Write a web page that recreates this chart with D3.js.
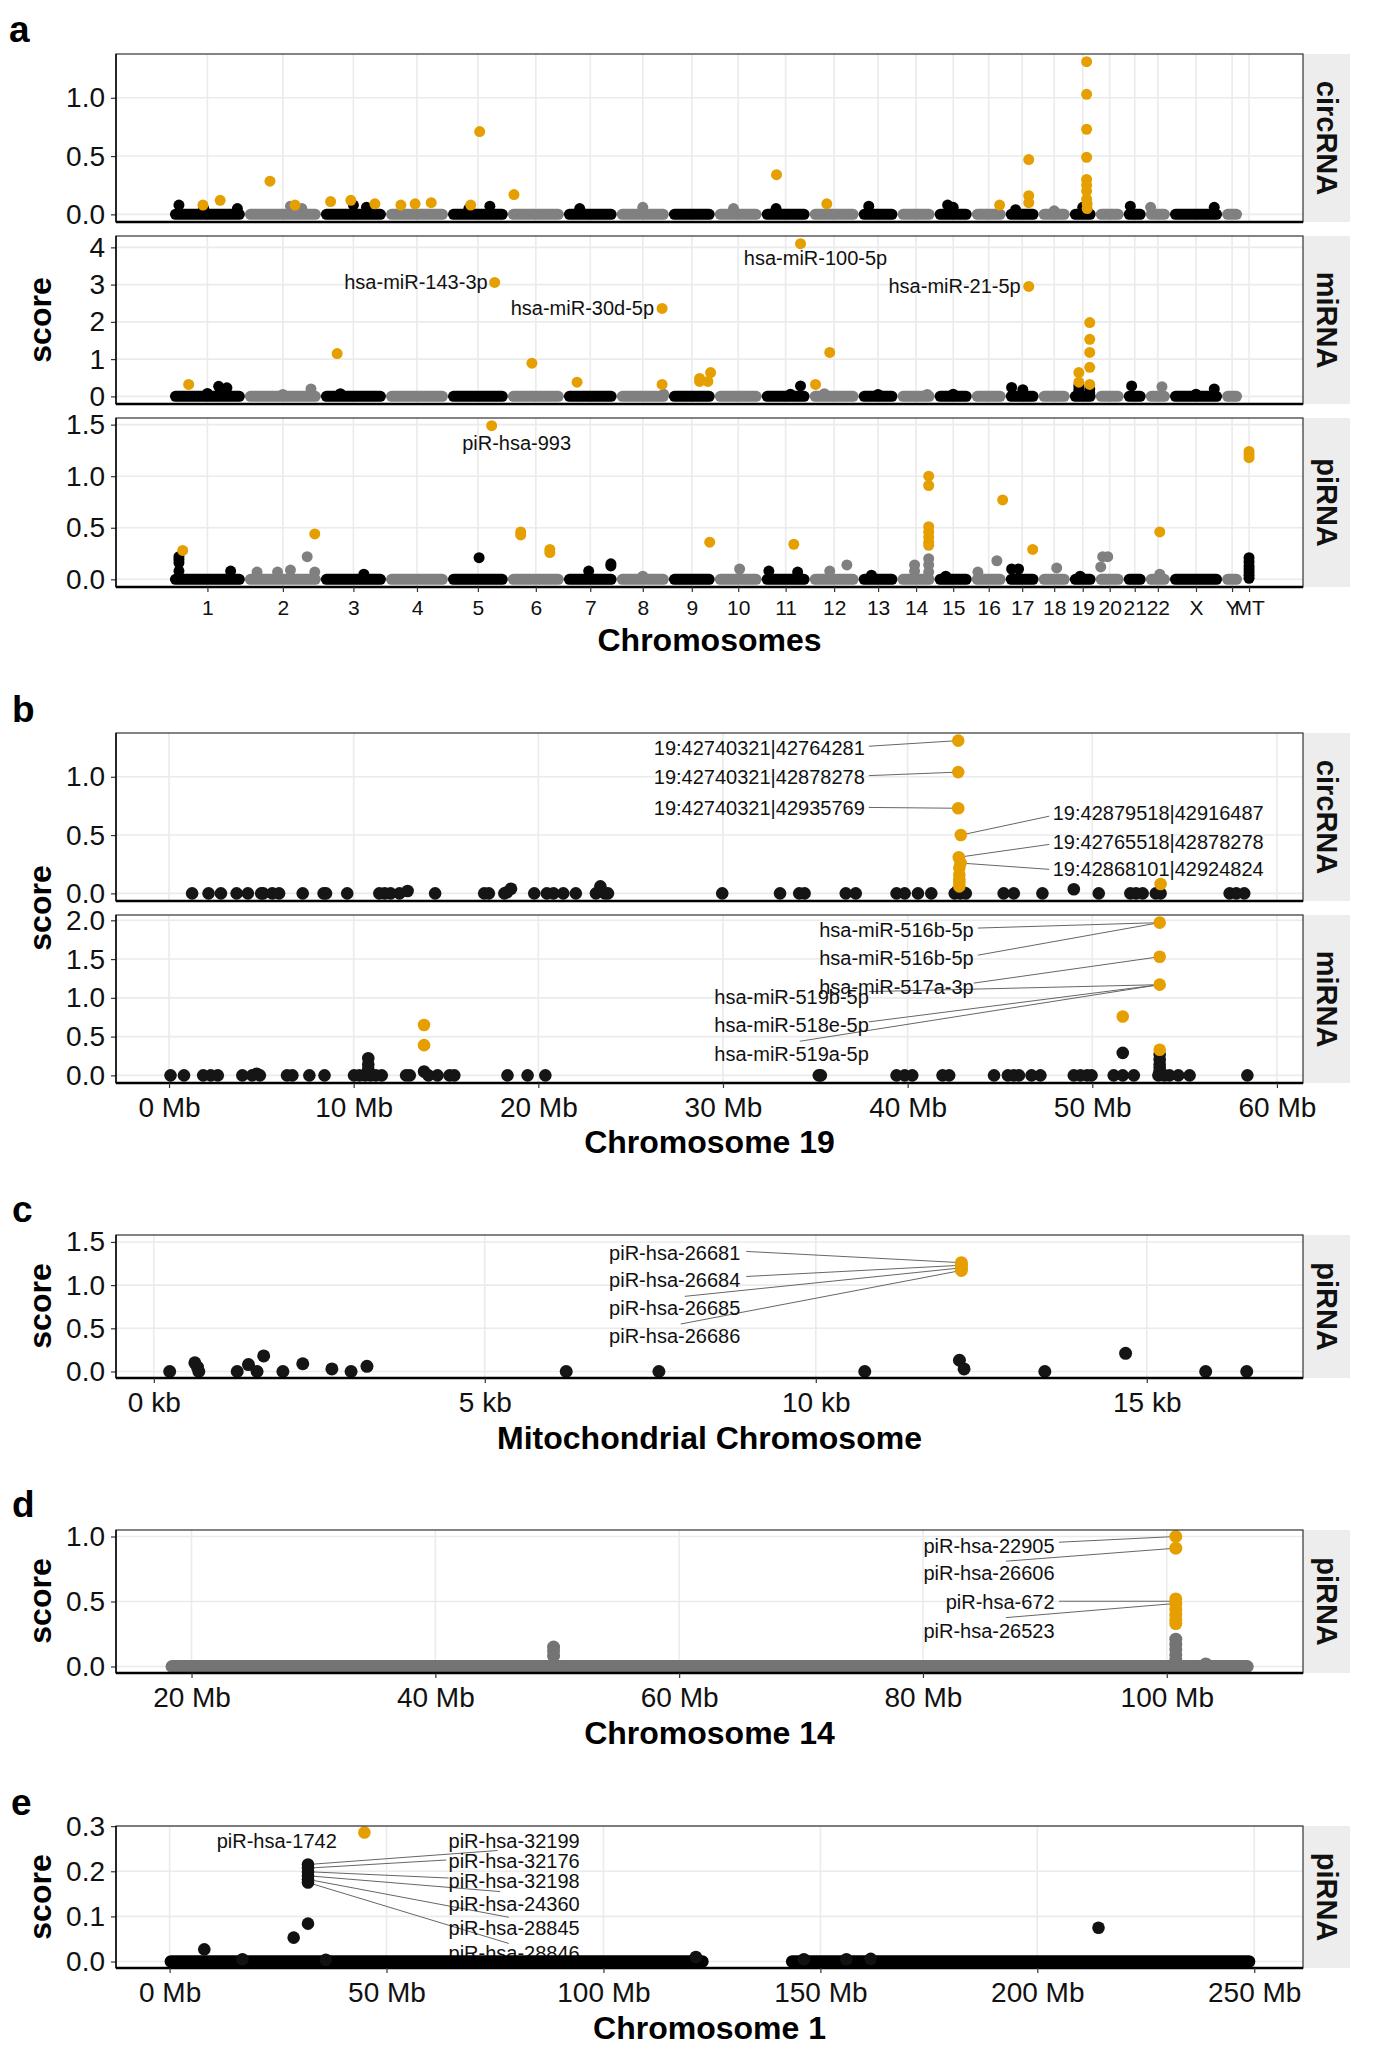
<!DOCTYPE html>
<html><head><meta charset="utf-8">
<script src="https://cdn.jsdelivr.net/npm/d3@7"></script>
<style>
body{margin:0;background:#fff}
svg text{font-family:"Liberation Sans",Arial,Helvetica,sans-serif}
</style>
</head><body>
<svg id="chart" width="1378" height="2067"></svg>
<script>
// ================= DATA =================
// Panel a: chromosomes and their plotted span (cumulative Manhattan axis units)
const chromosomes = ["1","2","3","4","5","6","7","8","9","10","11","12","13","14","15","16","17","18","19","20","21","22","X","Y","MT"];
const chromSpan   = [214,217,186,177,171,160,151,149,131,134,137,140,111,106,106,97,94,89,74,80,63,69,149,57,40];

// which chromosomes show the dense near-zero band in each facet of panel a
const circBandChroms = chromosomes.slice(0,24);
const miBandChroms   = chromosomes.slice(0,24);
const piBandChroms   = chromosomes.slice(0,24);

// [chromosome, fraction along chromosome, score]
const circSig = [["1",0.44,0.08],["1",0.67,0.12],["2",0.33,0.285],["2",0.66,0.08],["3",0.15,0.11],["3",0.46,0.12],["3",0.83,0.09],
  ["4",0.24,0.08],["4",0.47,0.09],["4",0.73,0.10],["5",0.38,0.08],["5",0.53,0.71],["6",0.11,0.17],["11",0.31,0.34],["12",0.35,0.09],
  ["16",0.82,0.08],["17",0.70,0.47],["17",0.70,0.16],["17",0.70,0.10],["19",0.65,1.31],["19",0.65,1.03],["19",0.65,0.73],["19",0.65,0.49],
  ["19",0.65,0.30],["19",0.65,0.25],["19",0.65,0.20],["19",0.65,0.13],["19",0.67,0.09],["19",0.67,0.05]];
const circBase = [["1",0.12,0.08],["1",0.45,0.05],["1",0.9,0.05],["2",0.6,0.07],["2",0.75,0.05],["3",0.5,0.08],["3",0.7,0.06],["5",0.35,0.05],
  ["5",0.7,0.07],["7",0.3,0.05],["8",0.5,0.06],["10",0.4,0.05],["11",0.3,0.05],["13",0.26,0.07],["15",0.35,0.08],["15",0.5,0.06],
  ["17",0.3,0.04],["18",0.5,0.03],["19",0.5,0.06],["21",0.3,0.07],["22",0.2,0.06],["X",0.85,0.06]];

const miSig = [["1",0.25,0.32],["3",0.25,1.15],["5",0.78,3.06],["6",0.43,0.89],["7",0.25,0.38],["8",0.87,2.36],["8",0.87,0.32],
  ["9",0.67,0.48],["9",0.67,0.40],["9",0.91,0.64],["9",0.85,0.40],["11",0.81,4.1],["12",0.12,0.32],["12",0.41,1.18],["17",0.70,2.95],
  ["19",0.35,0.64],["19",0.35,0.38],["19",0.77,1.98],["19",0.77,1.53],["19",0.77,1.18],["19",0.77,0.78],["19",0.77,0.32]];
const miBase = [["1",0.65,0.27],["1",0.76,0.23],["1",0.5,0.08],["2",0.87,0.2],["2",0.5,0.05],["3",0.3,0.07],["8",0.9,0.06],["11",0.81,0.28],
  ["11",0.6,0.06],["12",0.3,0.07],["13",0.5,0.05],["14",0.8,0.05],["15",0.5,0.06],["17",0.18,0.24],["17",0.52,0.18],["19",0.35,0.28],
  ["19",0.35,0.18],["19",0.35,0.1],["19",0.77,0.2],["19",0.77,0.1],["21",0.36,0.28],["22",0.67,0.26],["X",0.85,0.2],["X",0.5,0.06]];

const piSig = [["1",0.17,0.28],["2",0.92,0.44],["5",0.73,1.49],["6",0.23,0.46],["6",0.23,0.43],["6",0.75,0.29],["6",0.75,0.26],
  ["9",0.89,0.36],["11",0.67,0.34],["14",0.84,1.0],["14",0.84,0.91],["14",0.84,0.51],["14",0.84,0.46],["14",0.84,0.41],["14",0.84,0.36],
  ["14",0.84,0.33],["16",0.91,0.77],["17",0.82,0.29],["22",0.58,0.46],["MT",0.5,1.24],["MT",0.5,1.21],["MT",0.5,1.18]];
const piBase = [["1",0.12,0.22],["1",0.12,0.19],["1",0.12,0.16],["1",0.12,0.08],["1",0.81,0.08],["2",0.16,0.07],["2",0.43,0.07],["2",0.6,0.09],
  ["2",0.82,0.22],["2",0.92,0.07],["3",0.66,0.05],["5",0.52,0.21],["7",0.47,0.08],["7",0.89,0.15],["7",0.89,0.13],["8",0.5,0.03],
  ["10",0.53,0.1],["11",0.15,0.08],["11",0.75,0.07],["12",0.41,0.08],["12",0.76,0.14],["13",0.33,0.04],["14",0.46,0.14],["14",0.46,0.08],
  ["14",0.84,0.2],["14",0.84,0.14],["14",0.84,0.07],["15",0.3,0.03],["16",0.18,0.07],["16",0.74,0.18],["17",0.18,0.1],["17",0.39,0.1],
  ["18",0.58,0.11],["19",0.4,0.03],["20",0.18,0.12],["20",0.25,0.22],["20",0.43,0.22],["22",0.58,0.05],
  ["MT",0.5,0.21],["MT",0.5,0.17],["MT",0.5,0.13],["MT",0.5,0.1],["MT",0.5,0.07],["MT",0.5,0.04],["MT",0.5,0.01]];

const aLabelsMi = [{t:"hsa-miR-143-3p",chr:"5",f:0.78,s:3.06},{t:"hsa-miR-30d-5p",chr:"8",f:0.87,s:2.36},
  {t:"hsa-miR-100-5p",chr:"11",f:0.81,s:4.1},{t:"hsa-miR-21-5p",chr:"17",f:0.70,s:2.95}];
const aLabelsPi = [{t:"piR-hsa-993",chr:"5",f:0.73,s:1.49}];

// Panel b: chromosome 19 (Mb, score)
const bXTicks = [0,10,20,30,40,50,60];
const bXRange = [0.05,58.49];
const bCircBase = [[1.25,0],[2.14,0],[2.81,0],[3.66,0],[4.27,0],[4.99,0],[5.1,0],[5.59,0],[5.96,0],[7.24,0],[8.37,0],[8.5,0],[9.65,0],
  [11.39,0],[11.68,0],[12.0,0],[12.48,0],[12.92,0.02],[14.41,0],[17.07,0],[17.32,0],[18.16,0],[18.3,0.01],[18.52,0.04],[19.78,0],[20.46,0],
  [20.82,0],[21.35,0],[22.03,0],[23.12,0],[23.36,0.06],[23.6,0],[23.77,0],[29.96,0],[33.09,0],[34.13,0],[34.42,0],[36.65,0],[37.19,0],
  [39.4,0],[39.84,0],[40.56,0],[41.28,0],[42.55,0],[42.7,0.02],[42.85,0],[43.0,0.01],[43.15,0],[45.2,0],[45.75,0],[47.3,0],[49.0,0.035],
  [50.35,0],[52.06,0],[52.37,0],[52.73,0],[53.44,0],[53.7,0],[57.44,0],[57.8,0],[58.23,0]];
const bCircSig = [[42.74,1.31],[42.74,1.04],[42.74,0.73],[42.88,0.50],[42.77,0.31],[42.87,0.26],[42.8,0.22],[42.8,0.16],[42.8,0.12],
  [42.8,0.09],[42.8,0.06],[53.7,0.08]];
const bCircLabels = [
  {t:"19:42740321|42764281",tx:37.68,ty:1.25,a:"end",sx:37.9,sy:1.262,px:42.74,py:1.31},
  {t:"19:42740321|42878278",tx:37.68,ty:1.0,a:"end",sx:37.9,sy:1.01,px:42.74,py:1.04},
  {t:"19:42740321|42935769",tx:37.68,ty:0.73,a:"end",sx:37.9,sy:0.737,px:42.74,py:0.73},
  {t:"19:42879518|42916487",tx:47.86,ty:0.686,a:"start",sx:47.67,sy:0.662,px:42.88,py:0.50},
  {t:"19:42765518|42878278",tx:47.86,ty:0.44,a:"start",sx:47.67,sy:0.42,px:42.77,py:0.31},
  {t:"19:42868101|42924824",tx:47.86,ty:0.206,a:"start",sx:47.67,sy:0.206,px:42.87,py:0.26}];
const bMiBase = [[0.08,0],[0.81,0],[1.85,0],[2.26,0],[2.64,0],[3.97,0],[4.5,0],[4.75,0.02],[4.92,0],[6.39,0],[6.68,0],[7.6,0],[8.42,0],
  [10.02,0],[10.31,0],[10.62,0],[10.79,0.22],[10.79,0.14],[10.79,0.08],[10.91,0],[11.2,0],[11.52,0],[12.84,0],[13.04,0],[13.81,0.05],
  [14.05,0],[14.54,0],[15.19,0],[15.45,0],[18.33,0],[19.42,0],[20.38,0],[35.19,0],[35.3,0],[39.4,0],[39.84,0],[40.25,0],[41.89,0],
  [42.25,0],[44.68,0],[45.43,0],[45.75,0],[46.03,0],[46.71,0],[47.19,0],[49.0,0],[49.36,0],[49.72,0],[49.96,0],[51.16,0],[51.65,0.29],
  [51.65,0],[52.25,0],[53.58,0],[53.65,0.27],[53.65,0.2],[53.65,0.14],[53.65,0.1],[53.65,0.06],[53.65,0.03],[53.9,0],[54.18,0],
  [54.66,0],[55.27,0],[58.4,0]];
const bMiSig = [[13.81,0.65],[13.81,0.39],[51.65,0.76],[53.65,1.97],[53.65,1.53],[53.65,1.17],[53.65,0.33]];
const bMiLabels = [
  {t:"hsa-miR-516b-5p",tx:43.58,ty:1.87,a:"end",sx:43.8,sy:1.90,px:53.65,py:1.97},
  {t:"hsa-miR-516b-5p",tx:43.58,ty:1.51,a:"end",sx:43.8,sy:1.55,px:53.65,py:1.97},
  {t:"hsa-miR-517a-3p",tx:43.58,ty:1.14,a:"end",sx:43.58,sy:1.19,px:53.65,py:1.53},
  {t:"hsa-miR-519b-5p",tx:37.9,ty:1.01,a:"end",sx:37.9,sy:1.08,px:53.65,py:1.17},
  {t:"hsa-miR-518e-5p",tx:37.9,ty:0.65,a:"end",sx:37.9,sy:0.69,px:53.65,py:1.17},
  {t:"hsa-miR-519a-5p",tx:37.9,ty:0.28,a:"end",sx:34.16,sy:0.44,px:53.65,py:1.17}];

// Panel c: mitochondrial chromosome (kb, score)
const cXTicks = [0,5,10,15];
const cXRange = [0.244,16.545];
const cBase = [[0.24,0],[0.62,0.1],[0.66,0.05],[0.68,0],[1.26,0],[1.43,0.08],[1.56,0],[1.66,0.18],[1.95,0],[2.25,0.09],[2.69,0.03],
  [2.98,0],[3.22,0.06],[6.23,0],[7.63,0],[10.74,0],[12.17,0.13],[12.24,0.03],[13.46,0],[14.68,0.21],[15.89,0],[16.51,0]];
const cSig = [[12.2,1.26],[12.2,1.23],[12.2,1.2],[12.2,1.17]];
const cLabels = [
  {t:"piR-hsa-26681",tx:8.86,ty:1.37,a:"end",sx:8.95,sy:1.39,px:12.2,py:1.26},
  {t:"piR-hsa-26684",tx:8.86,ty:1.06,a:"end",sx:8.95,sy:1.10,px:12.2,py:1.23},
  {t:"piR-hsa-26685",tx:8.86,ty:0.735,a:"end",sx:8.02,sy:0.87,px:12.2,py:1.20},
  {t:"piR-hsa-26686",tx:8.86,ty:0.41,a:"end",sx:7.96,sy:0.55,px:12.2,py:1.17}];

// Panel d: chromosome 14 (Mb, score)
const dXTicks = [20,40,60,80,100];
const dXRange = [18.23,106.75];
const dBand = [[18.4,106.6]];
const dBase = [[49.7,0.15],[49.7,0.12],[49.7,0.08],[100.74,0.21],[100.74,0.17],[100.74,0.13],[100.74,0.09],[100.74,0.05],[103.2,0.02]];
const dSig = [[100.74,1.0],[100.74,0.91],[100.74,0.52],[100.74,0.48],[100.74,0.44],[100.74,0.40],[100.74,0.36],[100.74,0.33]];
const dLabels = [
  {t:"piR-hsa-22905",tx:90.8,ty:0.927,a:"end",sx:91.16,sy:0.956,px:100.74,py:1.0},
  {t:"piR-hsa-26606",tx:90.8,ty:0.716,a:"end",sx:86.8,sy:0.81,px:100.74,py:0.91},
  {t:"piR-hsa-672",tx:90.8,ty:0.495,a:"end",sx:91.16,sy:0.502,px:100.74,py:0.502},
  {t:"piR-hsa-26523",tx:90.8,ty:0.27,a:"end",sx:86.8,sy:0.376,px:100.74,py:0.485}];

// Panel e: chromosome 1 (Mb, score)
const eXTicks = [0,50,100,150,200,250];
const eXRange = [0.085,248.8];
const eBand = [[0.3,122.8],[143.5,248.8]];
const eBase = [[8.0,0.027],[16.8,0.005],[28.6,0.053],[31.9,0.084],[31.9,0.215],[31.9,0.207],[31.9,0.199],[31.9,0.19],[31.9,0.182],
  [31.9,0.175],[36,0.004],[121.3,0.01],[146.2,0.005],[156,0.005],[161.6,0.006],[214.1,0.075]];
const eSig = [[44.9,0.286]];
const eLabels = [
  {t:"piR-hsa-1742",tx:24.7,ty:0.268,a:"middle"},
  {t:"piR-hsa-32199",tx:64.3,ty:0.268,a:"start",sx:75.6,sy:0.246,px:31.9,py:0.215},
  {t:"piR-hsa-32176",tx:64.3,ty:0.223,a:"start",sx:63.8,sy:0.225,px:31.9,py:0.207},
  {t:"piR-hsa-32198",tx:64.3,ty:0.178,a:"start",sx:64.3,sy:0.185,px:31.9,py:0.199},
  {t:"piR-hsa-24360",tx:64.3,ty:0.128,a:"start",sx:76.2,sy:0.155,px:31.9,py:0.19},
  {t:"piR-hsa-28845",tx:64.3,ty:0.075,a:"start",sx:78.2,sy:0.098,px:31.9,py:0.182},
  {t:"piR-hsa-28846",tx:64.3,ty:0.018,a:"start",sx:78.2,sy:0.04,px:31.9,py:0.175}];

// ================= DRAWING =================
const ORANGE="#E69F00", BLACK="#000000", GREY="#808080";
const PL=116, PR=1303, STRIP=47;
const svg=d3.select("#chart");
const defs=svg.append("defs");
let clipN=0;
const expand=(lo,hi,m=0.05)=>{const s=hi-lo;return [lo-m*s,hi+m*s];};
const f1=d3.format(".1f");

function panel(o){
  const g=svg.append("g");
  const y=d3.scaleLinear().domain(expand(0,o.yMax)).range([o.bottom,o.top]);
  const id="clip"+(clipN++);
  defs.append("clipPath").attr("id",id).append("rect")
    .attr("x",PL).attr("y",o.top).attr("width",PR-PL).attr("height",o.bottom-o.top);
  g.append("rect").attr("x",PL).attr("y",o.top).attr("width",PR-PL).attr("height",o.bottom-o.top).attr("fill","#fff");
  g.selectAll(null).data(o.yTicks).join("line")
    .attr("x1",PL).attr("x2",PR).attr("y1",d=>y(d)).attr("y2",d=>y(d))
    .attr("stroke","#ebebeb").attr("stroke-width",1.6);
  g.selectAll(null).data(o.xGrid).join("line")
    .attr("x1",d=>o.x(d)).attr("x2",d=>o.x(d)).attr("y1",o.top).attr("y2",o.bottom)
    .attr("stroke","#ebebeb").attr("stroke-width",1.6);
  const ya=g.append("g").attr("transform",`translate(${PL},0)`)
    .call(d3.axisLeft(y).tickValues(o.yTicks).tickFormat(o.yFmt).tickSize(5).tickPadding(6));
  ya.select(".domain").remove();
  ya.attr("font-family",null).attr("font-size",null);
  ya.selectAll("text").attr("font-size",28).attr("fill","#111");
  ya.selectAll("line").attr("stroke","#333").attr("stroke-width",1.2);
  // strip
  g.append("rect").attr("x",PR).attr("y",o.top).attr("width",STRIP).attr("height",o.bottom-o.top).attr("fill","#ededed");
  g.append("text").attr("transform",`translate(${PR+STRIP/2},${(o.top+o.bottom)/2}) rotate(90)`)
    .attr("text-anchor","middle").attr("dominant-baseline","central")
    .attr("font-size",29).attr("font-weight","bold").attr("fill","#111").text(o.strip);
  const content=g.append("g").attr("clip-path",`url(#${id})`);
  return {y,g,content,finish(){
    g.append("rect").attr("x",PL).attr("y",o.top).attr("width",PR-PL).attr("height",o.bottom-o.top)
      .attr("fill","none").attr("stroke","#333").attr("stroke-width",1.2);
    g.append("line").attr("x1",PL).attr("x2",PR).attr("y1",o.bottom).attr("y2",o.bottom).attr("stroke","#000").attr("stroke-width",2.6);
    g.append("line").attr("x1",PL).attr("x2",PL).attr("y1",o.top).attr("y2",o.bottom).attr("stroke","#000").attr("stroke-width",1.4);
  }};
}

function xAxis(x,bottom,ticks,fmt,size,pad){
  const a=svg.append("g").attr("transform",`translate(0,${bottom})`)
    .call(d3.axisBottom(x).tickValues(ticks).tickFormat(fmt).tickSize(5).tickPadding(pad));
  a.select(".domain").remove();
  a.attr("font-family",null).attr("font-size",null);
  a.selectAll("text").attr("font-size",size).attr("fill","#111");
  a.selectAll("line").attr("stroke","#333").attr("stroke-width",1.2);
}
function xTitle(txt,baseline){
  svg.append("text").attr("x",(PL+PR)/2).attr("y",baseline).attr("text-anchor","middle")
    .attr("font-size",32).attr("font-weight","bold").attr("fill","#000").text(txt);
}
function yTitle(cy){
  svg.append("text").attr("transform",`translate(51,${cy}) rotate(-90)`).attr("text-anchor","middle")
    .attr("font-size",32).attr("font-weight","bold").attr("fill","#000").text("score");
}
function letter(t,x,y){
  svg.append("text").attr("x",x).attr("y",y).attr("font-size",37).attr("font-weight","bold").attr("fill","#000").text(t);
}
function repelLabels(p,x,labels){
  const y=p.y;
  p.content.selectAll(null).data(labels.filter(d=>d.sx!==undefined)).join("line")
    .attr("x1",d=>x(d.sx)).attr("y1",d=>y(d.sy)).attr("x2",d=>x(d.px)).attr("y2",d=>y(d.py))
    .attr("stroke","#666").attr("stroke-width",1);
  p.content.selectAll(null).data(labels).join("text")
    .attr("x",d=>x(d.tx)).attr("y",d=>y(d.ty)).attr("text-anchor",d=>d.a)
    .attr("dominant-baseline","central").attr("font-size",20).attr("fill","#111").text(d=>d.t);
}
function dots(p,x,arr,r,color){
  p.content.selectAll(null).data(arr).join("circle")
    .attr("cx",d=>x(d[0])).attr("cy",d=>p.y(d[1])).attr("r",r).attr("fill",color);
}
function bands(p,x,arr,r,color){
  p.content.selectAll(null).data(arr).join("line")
    .attr("x1",d=>x(d[0])).attr("x2",d=>x(d[1])).attr("y1",p.y(0)).attr("y2",p.y(0))
    .attr("stroke",color).attr("stroke-width",2*r).attr("stroke-linecap","round");
}

// ---------- Panel a ----------
const chromStart=[0]; chromSpan.forEach((s,i)=>chromStart.push(chromStart[i]+s));
const chrIdx=c=>chromosomes.indexOf(c);
const gpos=(c,f)=>chromStart[chrIdx(c)]+f*chromSpan[chrIdx(c)];
const chromCenter=chromosomes.map((c,i)=>chromStart[i]+chromSpan[i]/2);
const xa=d3.scaleLinear().domain(expand(0,chromCenter[chromCenter.length-1])).range([PL,PR]);
const chromColor=c=>chrIdx(c)%2===0?BLACK:GREY;
const RA=5.5;

function manhattan(o,bandChroms,base,sig,labels,labelStyle){
  const p=panel(Object.assign({x:xa,xGrid:chromCenter},o));
  // labels
  p.content.selectAll(null).data(labels).join("text")
    .attr("x",d=>xa(gpos(d.chr,d.f))+labelStyle[d.t][1]).attr("y",d=>p.y(d.s)+labelStyle[d.t][2])
    .attr("text-anchor",d=>labelStyle[d.t][0]).attr("dominant-baseline","central")
    .attr("font-size",20).attr("fill","#111").text(d=>d.t);
  p.content.selectAll(null).data(bandChroms).join("line")
    .attr("x1",c=>xa(chromStart[chrIdx(c)])+RA).attr("x2",c=>xa(chromStart[chrIdx(c)+1])-RA)
    .attr("y1",p.y(0)).attr("y2",p.y(0)).attr("stroke",chromColor)
    .attr("stroke-width",2*RA).attr("stroke-linecap","round");
  p.content.selectAll(null).data(base).join("circle")
    .attr("cx",d=>xa(gpos(d[0],d[1]))).attr("cy",d=>p.y(d[2])).attr("r",RA).attr("fill",d=>chromColor(d[0]));
  p.content.selectAll(null).data(sig).join("circle")
    .attr("cx",d=>xa(gpos(d[0],d[1]))).attr("cy",d=>p.y(d[2])).attr("r",RA).attr("fill",ORANGE);
  p.finish();
  return p;
}
const labelStyleA={
  "hsa-miR-143-3p":["end",-7,0],"hsa-miR-30d-5p":["end",-8,0],"hsa-miR-100-5p":["middle",15,14],
  "hsa-miR-21-5p":["end",-8,0],"piR-hsa-993":["middle",25,17]};

letter("a",9,42);
manhattan({top:54,bottom:222,yMax:1.31,yTicks:[0,0.5,1.0],yFmt:f1,strip:"circRNA"},circBandChroms,circBase,circSig,[],labelStyleA);
manhattan({top:236,bottom:404,yMax:4.1,yTicks:[0,1,2,3,4],yFmt:d3.format("d"),strip:"miRNA"},miBandChroms,miBase,miSig,aLabelsMi,labelStyleA);
manhattan({top:418,bottom:587,yMax:1.49,yTicks:[0,0.5,1.0,1.5],yFmt:f1,strip:"piRNA"},piBandChroms,piBase,piSig,aLabelsPi,labelStyleA);
xAxis(xa,587,chromCenter,(d,i)=>chromosomes[i],21,8);
xTitle("Chromosomes",651);
yTitle(320);

// ---------- Panel b ----------
letter("b",12,722);
const xb=d3.scaleLinear().domain(expand(bXRange[0],bXRange[1])).range([PL,PR]);
const RB=6.3;
{
  const p1=panel({top:733,bottom:901,x:xb,xGrid:bXTicks,yMax:1.31,yTicks:[0,0.5,1.0],yFmt:f1,strip:"circRNA"});
  repelLabels(p1,xb,bCircLabels);
  dots(p1,xb,bCircBase,RB,"#151515");
  dots(p1,xb,bCircSig,RB,ORANGE);
  p1.finish();
  const p2=panel({top:915,bottom:1083,x:xb,xGrid:bXTicks,yMax:1.97,yTicks:[0,0.5,1.0,1.5,2.0],yFmt:f1,strip:"miRNA"});
  repelLabels(p2,xb,bMiLabels);
  dots(p2,xb,bMiBase,RB,"#151515");
  dots(p2,xb,bMiSig,RB,ORANGE);
  p2.finish();
  xAxis(xb,1083,bXTicks,d=>d+" Mb",28,9);
  xTitle("Chromosome 19",1153);
  yTitle(908);
}

// ---------- Panel c ----------
letter("c",12,1222);
const xc=d3.scaleLinear().domain(expand(cXRange[0],cXRange[1])).range([PL,PR]);
{
  const p=panel({top:1235,bottom:1378,x:xc,xGrid:cXTicks,yMax:1.505,yTicks:[0,0.5,1.0,1.5],yFmt:f1,strip:"piRNA"});
  repelLabels(p,xc,cLabels);
  dots(p,xc,cBase,6.5,"#151515");
  dots(p,xc,cSig,6.5,ORANGE);
  p.finish();
  xAxis(xc,1378,cXTicks,d=>d+" kb",28,9);
  xTitle("Mitochondrial Chromosome",1449);
  yTitle(1306);
}

// ---------- Panel d ----------
letter("d",12,1517);
const xd=d3.scaleLinear().domain(expand(dXRange[0],dXRange[1])).range([PL,PR]);
{
  const p=panel({top:1530,bottom:1673,x:xd,xGrid:dXTicks,yMax:1.0,yTicks:[0,0.5,1.0],yFmt:f1,strip:"piRNA"});
  repelLabels(p,xd,dLabels);
  bands(p,xd,dBand,6.5,"#747474");
  dots(p,xd,dBase,6.5,"#747474");
  dots(p,xd,dSig,6.5,ORANGE);
  p.finish();
  xAxis(xd,1673,dXTicks,d=>d+" Mb",28,9);
  xTitle("Chromosome 14",1744);
  yTitle(1601);
}

// ---------- Panel e ----------
letter("e",11,1815);
const xe=d3.scaleLinear().domain(expand(eXRange[0],eXRange[1])).range([PL,PR]);
{
  const p=panel({top:1826,bottom:1968,x:xe,xGrid:eXTicks,yMax:0.286,yTicks:[0,0.1,0.2,0.3],yFmt:f1,strip:"piRNA"});
  repelLabels(p,xe,eLabels);
  bands(p,xe,eBand,6.3,"#000");
  dots(p,xe,eBase,6.3,"#111");
  dots(p,xe,eSig,6.3,ORANGE);
  p.finish();
  xAxis(xe,1968,eXTicks,d=>d+" Mb",28,9);
  xTitle("Chromosome 1",2039);
  yTitle(1897);
}
</script>
</body></html>
